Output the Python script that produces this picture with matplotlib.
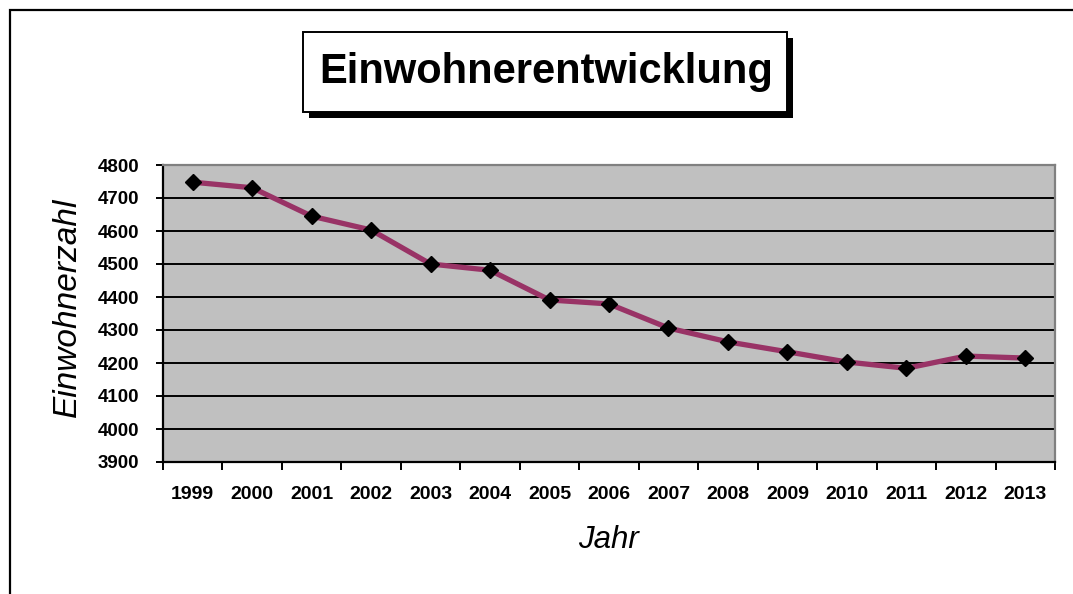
import matplotlib
matplotlib.use("Agg")
import matplotlib.pyplot as plt
from matplotlib.patches import Rectangle
from matplotlib.ticker import FixedLocator

years = ["1999", "2000", "2001", "2002", "2003", "2004", "2005", "2006",
         "2007", "2008", "2009", "2010", "2011", "2012", "2013"]
einwohner = [4748, 4731, 4645, 4603, 4500, 4481, 4391, 4379,
             4306, 4264, 4234, 4203, 4184, 4221, 4215]
y_ticks = [3900, 4000, 4100, 4200, 4300, 4400, 4500, 4600, 4700, 4800]
title = "Einwohnerentwicklung"
xlabel = "Jahr"
ylabel = "Einwohnerzahl"

plt.rcParams['font.family'] = ['Liberation Sans', 'DejaVu Sans']

W, H = 1073, 594
fig = plt.figure(figsize=(W / 100, H / 100), dpi=100)

def fx(px):
    return px / W

def fy(py):
    return 1 - py / H

# outer chart border (clipped at right/bottom)
fig.patches.append(Rectangle((fx(10), fy(620)), fx(1100 - 10), 610 / H,
                             transform=fig.transFigure, fill=False,
                             edgecolor='black', linewidth=1.6))

ax = fig.add_axes([fx(163), fy(462), fx(1055 - 163), (462 - 165) / H])
ax.set_facecolor('#C0C0C0')

x = list(range(len(years)))
ax.plot(x, einwohner, color='#993366', linewidth=3.8, zorder=3,
        solid_joinstyle='round')
ax.plot(x, einwohner, linestyle='none', marker='D', markersize=8.5,
        color='black', zorder=4)

ax.set_xlim(-0.5, len(years) - 0.5)
ax.set_ylim(3900, 4800)
ax.set_yticks(y_ticks)
ax.set_yticklabels([str(v) for v in y_ticks], fontsize=13.5, fontweight='bold')
ax.yaxis.grid(True, color='black', linewidth=1.4)
ax.set_axisbelow(True)

ax.xaxis.set_major_locator(FixedLocator([i - 0.5 for i in range(len(years) + 1)]))
ax.xaxis.set_minor_locator(FixedLocator(x))
ax.set_xticklabels([])
ax.set_xticklabels(years, minor=True, fontsize=14, fontweight='bold')
ax.tick_params(axis='x', which='major', length=6, width=1.4, direction='out')
ax.tick_params(axis='x', which='minor', length=0, pad=17)
ax.tick_params(axis='y', length=5, width=1.4, direction='out', pad=12)

for s in ['left', 'bottom']:
    ax.spines[s].set_color('black')
    ax.spines[s].set_linewidth(1.6)
for s in ['top', 'right']:
    ax.spines[s].set_color('#808080')
    ax.spines[s].set_linewidth(1.6)

fig.text(fx(608), fy(540), xlabel, fontsize=22.5, style='italic',
         ha='center', va='center')
fig.text(fx(67), fy(307), ylabel, fontsize=24, style='italic',
         ha='center', va='center', rotation=90)

# title box with shadow
bx0, by0, bx1, by1 = 303, 32, 787, 112
sh = 6
fig.patches.append(Rectangle((fx(bx0 + sh), fy(by1 + sh)), fx(bx1 - bx0), (by1 - by0) / H,
                             transform=fig.transFigure, facecolor='black',
                             edgecolor='black', linewidth=0))
fig.patches.append(Rectangle((fx(bx0), fy(by1)), fx(bx1 - bx0), (by1 - by0) / H,
                             transform=fig.transFigure, facecolor='white',
                             edgecolor='black', linewidth=1.4))
fig.text(fx(546), fy(72), title, fontsize=30, fontweight='bold',
         ha='center', va='center')

fig.savefig("out.png", dpi=100)
